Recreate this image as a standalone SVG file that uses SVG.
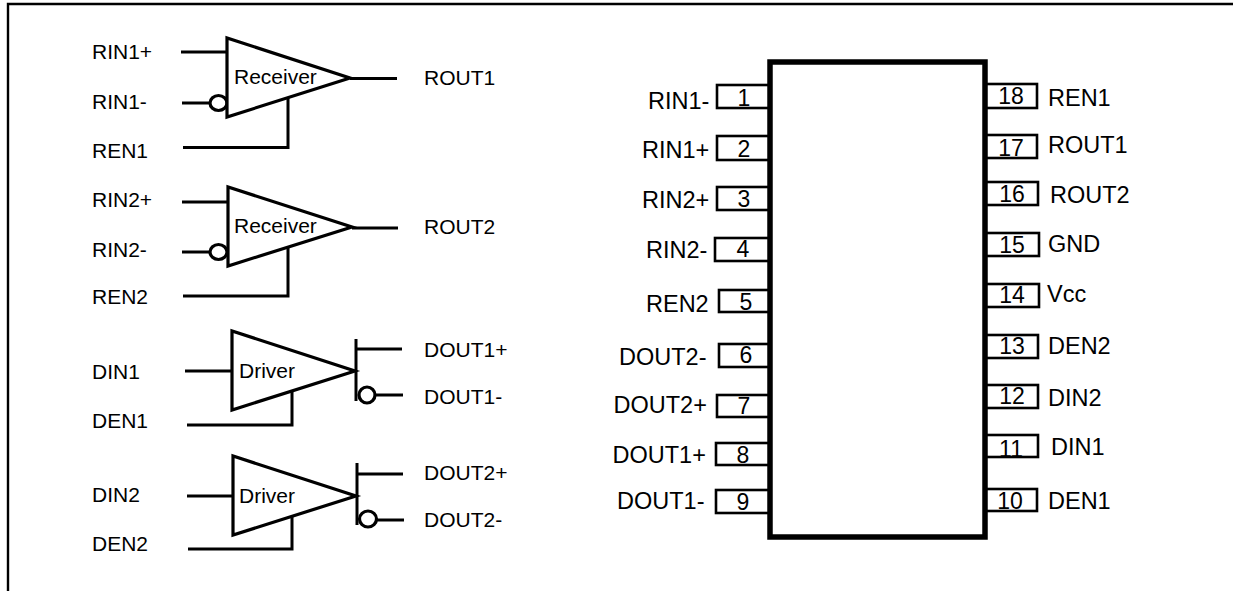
<svg xmlns="http://www.w3.org/2000/svg" width="1233" height="591" viewBox="0 0 1233 591">
<style>
text{font-family:"Liberation Sans",Arial,sans-serif;fill:#000}
.l{font-size:21px}
.p{font-size:23.500px}
.n{font-size:23px;text-anchor:middle}
.w{fill:none;stroke:#000;stroke-width:3;stroke-linecap:butt;stroke-linejoin:miter}
.t{fill:#fff;stroke:#000;stroke-width:3.200;stroke-linejoin:miter}
.c{fill:#fff;stroke:#000;stroke-width:3.200}
.r{fill:#fff;stroke:#000;stroke-width:2.600}
.ic{fill:#fff;stroke:#000;stroke-width:5.500}
</style>
<rect width="1233" height="591" fill="#fff"/>
<path id="frame" d="M8 591V4H1233" fill="none" stroke="#000" stroke-width="2.400"/>
<g id="connectors">
<path class="w" d="M181 52H227"/>
<path class="w" d="M182 103H210"/>
<path class="w" d="M183 147.500H288V98"/>
<path class="w" d="M350 78.500H397"/>
<path class="w" d="M182 202H228"/>
<path class="w" d="M182 252H210"/>
<path class="w" d="M183 296H288V248"/>
<path class="w" d="M352 228H398"/>
<path class="w" d="M185 371H232"/>
<path class="w" d="M187 425H292V392"/>
<path class="w" d="M187 496H233"/>
<path class="w" d="M188 549H292V516"/>
<path class="w" d="M356 339V401"/>
<path class="w" d="M356 349H402"/>
<path class="w" d="M375 395H403"/>
<path class="w" d="M357 463V525"/>
<path class="w" d="M357 474H403"/>
<path class="w" d="M376 520H404"/>
</g>
<g id="receiver1"><ellipse class="c" cx="218.500" cy="103" rx="8.500" ry="7.500"/><path class="t" d="M227 38V117L350 78Z"/><text class="l" x="234" y="84">Receiver</text></g>
<g id="receiver2"><ellipse class="c" cx="218.500" cy="252" rx="8.500" ry="7.500"/><path class="t" d="M228 187V266L352 227Z"/><text class="l" x="234" y="233">Receiver</text></g>
<g id="driver1"><path class="t" d="M232 331V410L355 371Z"/><text class="l" x="239" y="378">Driver</text></g>
<g id="driver2"><path class="t" d="M233 456V535L356 496Z"/><text class="l" x="239" y="503">Driver</text></g>
<circle class="c" cx="367" cy="395" r="8"/>
<ellipse class="c" cx="368" cy="519" rx="8.500" ry="8"/>
<g id="signal-labels">
<text class="l" x="92" y="59">RIN1+</text>
<text class="l" x="92" y="109">RIN1-</text>
<text class="l" x="92" y="158">REN1</text>
<text class="l" x="92" y="207">RIN2+</text>
<text class="l" x="92" y="257">RIN2-</text>
<text class="l" x="92" y="304">REN2</text>
<text class="l" x="92" y="379">DIN1</text>
<text class="l" x="92" y="428">DEN1</text>
<text class="l" x="92" y="502">DIN2</text>
<text class="l" x="92" y="551">DEN2</text>
<text class="l" x="424" y="85">ROUT1</text>
<text class="l" x="424" y="234">ROUT2</text>
<text class="l" x="424" y="357">DOUT1+</text>
<text class="l" x="424" y="404">DOUT1-</text>
<text class="l" x="424" y="480">DOUT2+</text>
<text class="l" x="424" y="527">DOUT2-</text>
</g>
<g id="ic-pins">
<rect class="r" x="717" y="85" width="53" height="23"/>
<rect class="r" x="717" y="136" width="53" height="24"/>
<rect class="r" x="717" y="187" width="53" height="23"/>
<rect class="r" x="715" y="238" width="55" height="23"/>
<rect class="r" x="719" y="290" width="51" height="22"/>
<rect class="r" x="719" y="344" width="51" height="23"/>
<rect class="r" x="717" y="395" width="53" height="22"/>
<rect class="r" x="716" y="443" width="54" height="22"/>
<rect class="r" x="716" y="490" width="54" height="23"/>
<rect class="r" x="985" y="84" width="52" height="24"/>
<rect class="r" x="985" y="135" width="52" height="23"/>
<rect class="r" x="985" y="182" width="53" height="23"/>
<rect class="r" x="985" y="233" width="54" height="23"/>
<rect class="r" x="985" y="284" width="54" height="23"/>
<rect class="r" x="985" y="335" width="53" height="23"/>
<rect class="r" x="985" y="385" width="53" height="23"/>
<rect class="r" x="985" y="435" width="53" height="22"/>
<rect class="r" x="985" y="489" width="52" height="22"/>
</g>
<g id="ic"><rect class="ic" x="770" y="62" width="215" height="475"/></g>
<g id="pin-numbers">
<text class="n" x="744" y="106">1</text>
<text class="n" x="744" y="157">2</text>
<text class="n" x="744" y="207">3</text>
<text class="n" x="743" y="257">4</text>
<text class="n" x="746" y="310">5</text>
<text class="n" x="746" y="363">6</text>
<text class="n" x="744" y="414">7</text>
<text class="n" x="743" y="463">8</text>
<text class="n" x="743" y="510">9</text>
<text class="n" x="1011" y="104">18</text>
<text class="n" x="1011" y="156">17</text>
<text class="n" x="1012" y="202">16</text>
<text class="n" x="1012" y="253">15</text>
<text class="n" x="1012" y="303">14</text>
<text class="n" x="1012" y="354">13</text>
<text class="n" x="1012" y="404">12</text>
<text class="n" x="1011" y="457">11</text>
<text class="n" x="1010" y="509">10</text>
</g>
<g id="pin-labels">
<text class="p" x="648" y="109">RIN1-</text>
<text class="p" x="642" y="158">RIN1+</text>
<text class="p" x="642" y="208">RIN2+</text>
<text class="p" x="646" y="258">RIN2-</text>
<text class="p" x="646" y="312">REN2</text>
<text class="p" x="619" y="365">DOUT2-</text>
<text class="p" x="613.500" y="413">DOUT2+</text>
<text class="p" x="612.500" y="463">DOUT1+</text>
<text class="p" x="617" y="509">DOUT1-</text>
<text class="p" x="1048" y="106">REN1</text>
<text class="p" x="1048" y="153">ROUT1</text>
<text class="p" x="1050" y="203">ROUT2</text>
<text class="p" x="1048" y="252">GND</text>
<text class="p" x="1047" y="302">Vcc</text>
<text class="p" x="1048" y="354">DEN2</text>
<text class="p" x="1048" y="406">DIN2</text>
<text class="p" x="1051" y="455">DIN1</text>
<text class="p" x="1048" y="509">DEN1</text>
</g>
</svg>
